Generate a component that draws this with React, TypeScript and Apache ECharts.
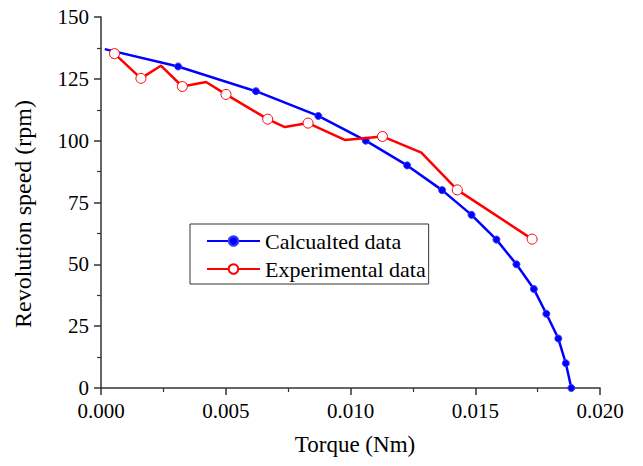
import React, { useEffect, useRef } from "react";
import * as echarts from "echarts";

const calcTorque = [0.00015, 0.00309, 0.00621, 0.00871, 0.01061, 0.01227, 0.01367, 0.01485, 0.01585, 0.01665, 0.01735, 0.01785, 0.01833, 0.01863, 0.01885];
const calcSpeed = [137, 130, 120, 110, 100, 90, 80, 70, 60, 50, 40, 30, 20, 10, 0];
const calcMarked = [false, true, true, true, true, true, true, true, true, true, true, true, true, true, true];

const expTorque = [0.00054, 0.0016, 0.0024, 0.00326, 0.00421, 0.00501, 0.00668, 0.00737, 0.0083, 0.00977, 0.01128, 0.01284, 0.01428, 0.01728];
const expSpeed = [135.2, 125.2, 130.3, 121.9, 123.7, 118.7, 108.7, 105.5, 107.1, 100.3, 101.7, 95.2, 80.1, 60.2];
const expMarked = [true, true, false, true, false, true, true, false, true, false, true, false, true, true];

const xTicks = ["0.000", "0.005", "0.010", "0.015", "0.020"];
const yTicks = [0, 25, 50, 75, 100, 125, 150];
const xTitle = "Torque (Nm)";
const yTitle = "Revolution speed (rpm)";

const FONT = "Liberation Serif";
const AXIS_COLOR = "#333333";

export default function App() {
  const ref = useRef<HTMLDivElement>(null);
  useEffect(() => {
    if (!ref.current) return;
    const chart = echarts.init(ref.current, undefined, { renderer: "svg" });
    const calcData = calcTorque.map((t, i) =>
      calcMarked[i] ? [t, calcSpeed[i]] : { value: [t, calcSpeed[i]], symbol: "none" }
    );
    const expData = expTorque.map((t, i) =>
      expMarked[i] ? [t, expSpeed[i]] : { value: [t, expSpeed[i]], symbol: "none" }
    );
    const axisCommon = {
      axisLine: { show: true, onZero: false, lineStyle: { color: AXIS_COLOR, width: 1.5 } },
      axisTick: { show: true, inside: false, length: 7, lineStyle: { color: AXIS_COLOR, width: 1.5 } },
      minorTick: { show: true, splitNumber: 2, length: 4, lineStyle: { color: AXIS_COLOR, width: 1.2 } },
      splitLine: { show: false },
    };
    chart.setOption({
      animation: false,
      backgroundColor: "#ffffff",
      grid: { left: 101, right: 43, top: 17, bottom: 78, containLabel: false },
      legend: {
        show: true,
        orient: "vertical",
        left: 190,
        top: 224,
        borderColor: "#333",
        borderWidth: 1,
        padding: [6, 3, 4, 16],
        itemWidth: 53,
        itemHeight: 12,
        itemGap: 6,
        textStyle: { fontFamily: FONT, fontSize: 22, color: "#000" },
        data: ["Calcualted data", "Experimental data"],
      },
      graphic: [
        {
          type: "text",
          x: 355,
          y: 444,
          style: {
            text: xTitle,
            fontFamily: FONT,
            fontSize: 23,
            fill: "#000",
            textAlign: "center",
            textVerticalAlign: "middle",
          },
        },
        {
          type: "text",
          x: 23,
          y: 214,
          rotation: Math.PI / 2,
          style: {
            text: yTitle,
            fontFamily: FONT,
            fontSize: 24,
            fill: "#000",
            textAlign: "center",
            textVerticalAlign: "middle",
          },
        },
      ],
      xAxis: {
        ...axisCommon,
        type: "value",
        min: 0,
        max: 0.02,
        interval: 0.005,
        axisLabel: {
          fontFamily: FONT,
          fontSize: 21,
          color: "#000",
          margin: 12,
          formatter: (v: number) => {
            const idx = Math.round(v / 0.005);
            return xTicks[idx] ?? v.toFixed(3);
          },
        },
      },
      yAxis: {
        ...axisCommon,
        type: "value",
        min: 0,
        max: 150,
        interval: 25,
        axisLabel: {
          fontFamily: FONT,
          fontSize: 21,
          color: "#000",
          margin: 12,
          formatter: (v: number) => (yTicks.includes(v) ? String(v) : ""),
        },
      },
      series: [
        {
          name: "Calcualted data",
          type: "line",
          data: calcData,
          symbol: "circle",
          symbolSize: 7,
          lineStyle: { color: "#0000ff", width: 2.5 },
          itemStyle: { color: "#0000ff", borderColor: "#3a3aff", borderWidth: 1 },
          z: 2,
        },
        {
          name: "Experimental data",
          type: "line",
          data: expData,
          symbol: "circle",
          symbolSize: 10,
          lineStyle: { color: "#ff0000", width: 2.5 },
          itemStyle: { color: "#ffffff", borderColor: "#ff0000", borderWidth: 1 },
          z: 3,
        },
      ],
    });
    return () => chart.dispose();
  }, []);
  return <div ref={ref} style={{ width: 643, height: 466, position: "absolute", left: 0, top: 0 }} />;
}
